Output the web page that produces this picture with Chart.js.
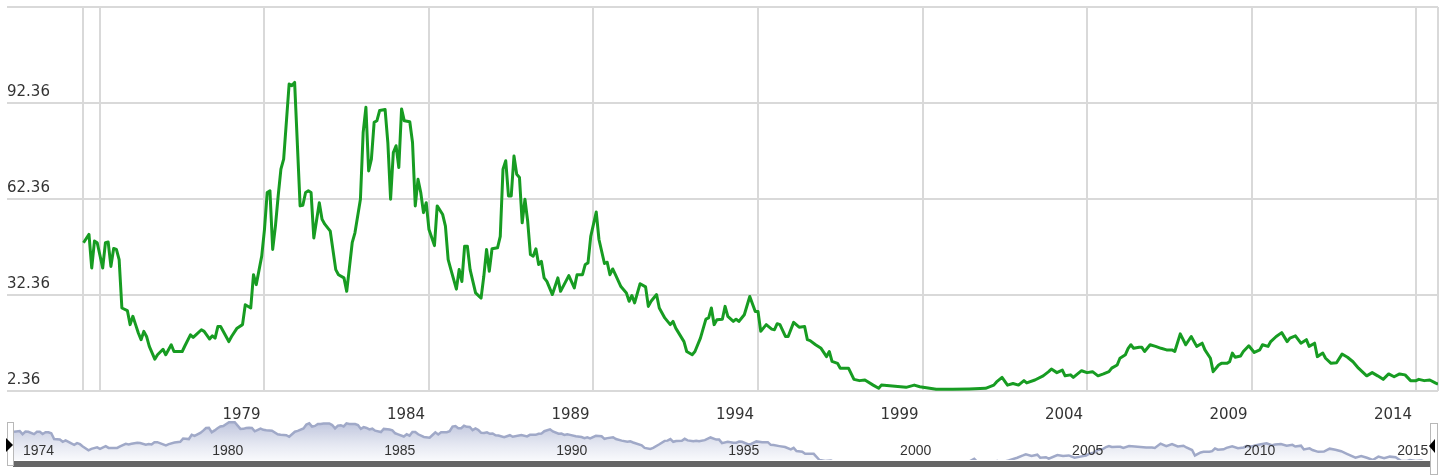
<!DOCTYPE html>
<html>
<head>
<meta charset="utf-8">
<script src="https://cdn.jsdelivr.net/npm/chart.js@4.4.0/dist/chart.umd.min.js"></script>
<style>
  body { margin: 0; background: #fff; }
  #wrap { position: relative; width: 1447px; height: 475px; overflow: hidden; }
  canvas { position: absolute; left: 0; }
  #main { top: 0; }
  #nav { top: 415px; }
  .bar { position: absolute; left: 13px; top: 461px; width: 1417px; height: 6px; background: #666; }
  .handle { position: absolute; background: #fff; border: 1px solid #b8b8b8; }
  .arrow { position: absolute; width: 0; height: 0; border-top: 7px solid transparent; border-bottom: 7px solid transparent; }
</style>
</head>
<body>
<div id="wrap">
  <canvas id="main" width="1447" height="475"></canvas>
  <canvas id="nav" width="1447" height="55"></canvas>
  <div class="bar"></div>
  <div class="handle" style="left:7px; top:422px; width:5px; height:42px;"></div>
  <div class="arrow" style="left:6px; top:438px; border-left:7px solid #000;"></div>
  <div class="handle" style="left:1430px; top:423px; width:6px; height:50px;"></div>
  <div class="arrow" style="left:1429px; top:439px; border-right:6px solid #000;"></div>
</div>
<script>
// values, grouped by decade (month, value)
const months1970s = ['1974-07','1974-09','1974-10','1974-11','1974-12',
  '1975-02','1975-03','1975-04','1975-05','1975-06','1975-07','1975-08','1975-09','1975-11','1975-12',
  '1976-01','1976-02','1976-03','1976-04','1976-05','1976-06','1976-07','1976-09','1976-10','1976-12',
  '1977-01','1977-03','1977-04','1977-07','1977-08','1977-10','1977-11','1977-12',
  '1978-02','1978-03','1978-05','1978-06','1978-07','1978-08','1978-09','1978-12',
  '1979-01','1979-03','1979-05','1979-06','1979-08','1979-09','1979-10','1979-12'];
const values1970s = [48.7,51.3,40.8,49.2,48.7,
  40.8,48.7,48.9,41.3,46.9,46.6,43.4,28.3,27.5,23.1,
  25.7,23.1,20.5,18.4,21,19.4,16.3,12.3,13.7,15.4,
  13.7,16.8,14.7,14.7,16.5,19.9,19.1,19.9,
  21.5,21,18.6,19.6,18.9,22.5,22.5,17.8,
  19.4,22,23.1,29.3,28.3,38.7,35.6,44.5];

const months1980s = ['1980-01','1980-02','1980-03','1980-04','1980-05','1980-06','1980-07','1980-08','1980-10','1980-11','1980-12',
  '1981-02','1981-03','1981-04','1981-05','1981-06','1981-07','1981-09','1981-10','1981-11',
  '1982-01','1982-03','1982-04','1982-06','1982-07','1982-09','1982-10','1982-12',
  '1983-01','1983-02','1983-03','1983-04','1983-05','1983-06','1983-07','1983-09','1983-10','1983-11','1983-12',
  '1984-01','1984-02','1984-03','1984-04','1984-06','1984-07','1984-08','1984-09','1984-10','1984-11','1984-12',
  '1985-01','1985-03','1985-04','1985-06','1985-07','1985-08','1985-09','1985-11','1985-12',
  '1986-01','1986-02','1986-03','1986-04','1986-06','1986-08','1986-09','1986-10','1986-11','1986-12',
  '1987-02','1987-03','1987-04','1987-05','1987-06','1987-07','1987-08','1987-09','1987-10','1987-11','1987-12',
  '1988-01','1988-02','1988-03','1988-04','1988-05','1988-06','1988-07','1988-08','1988-10','1988-12',
  '1989-01','1989-04','1989-06','1989-07','1989-09','1989-10','1989-11','1989-12'];
const values1980s = [52.8,64.4,64.9,46.6,53.9,63.3,71.7,74.8,98.3,97.8,98.8,
  60.2,60.4,64.4,64.9,64.4,50.2,61.2,56,54.5,
  52.3,40.3,38.7,37.7,33.5,48.7,51.8,62.3,
  83.2,91,71.1,74.8,86.3,86.8,90,90.3,80,62.3,76.9,
  79,72.2,90.5,86.8,86.5,80,60.2,68.5,64.4,58.1,61.2,
  52.8,47.8,60.2,57.5,53.9,43.4,40.3,34.2,40.3,
  36.6,47.6,47.6,40.3,33,31.4,38.2,46.6,39.8,46.8,
  47.1,50.7,71.7,74.3,63.3,63.3,75.8,70.1,69.1,54.9,62.3,
  55.4,45,44.5,46.8,41.9,42.9,37.7,36.6,32.5,37.7,
  33.5,38.4,34.6,38.7,38.7,41.9,42.4,50.7];

const months1990s = ['1990-02','1990-03','1990-05','1990-06','1990-07','1990-08','1990-09','1990-11',
  '1991-01','1991-02','1991-03','1991-04','1991-06','1991-08','1991-09','1991-10','1991-12',
  '1992-01','1992-03','1992-05','1992-06','1992-07','1992-10','1992-11',
  '1993-01','1993-02','1993-04','1993-06','1993-07','1993-08','1993-09','1993-10','1993-12',
  '1994-01','1994-02','1994-04','1994-05','1994-06','1994-08','1994-10','1994-12',
  '1995-01','1995-02','1995-04','1995-06','1995-07','1995-08','1995-09','1995-11','1995-12',
  '1996-02','1996-04','1996-06','1996-07','1996-08','1996-10','1996-12',
  '1997-02','1997-03','1997-04','1997-06','1997-07','1997-10','1997-12',
  '1998-02','1998-04','1998-07','1998-09','1998-10',
  '1999-05','1999-07','1999-10','1999-12'];
const values1990s = [58.3,49.7,42.2,42.6,38.7,40.5,38.7,35,
  33,30.4,32.2,29.9,35.9,34.9,28.8,30.4,32.5,
  28.3,25.2,23.1,24.1,22,17.8,14.7,
  13.7,14.7,18.9,24.8,25.2,28.3,23.1,24.6,24.8,
  28.8,25.7,24.1,24.8,24.1,26.2,31.9,27.2,
  27.2,21,23.1,21.7,21.5,23.4,23.1,19.4,19.4,
  23.8,22.3,22.5,18.4,18.1,16.8,15.7,
  13.1,14.7,11.6,11,9.5,9.5,6,
  5.6,5.8,4.2,3.2,4.2,
  3.7,3.5,4.2,3.7];

const months2000s = ['2000-06','2000-12','2001-06','2001-12',
  '2002-03','2002-04','2002-06','2002-08','2002-10','2002-12',
  '2003-02','2003-03','2003-06','2003-09','2003-11','2003-12',
  '2004-02','2004-04','2004-05','2004-07','2004-08','2004-11',
  '2005-01','2005-03','2005-05','2005-07','2005-09','2005-10','2005-12',
  '2006-01','2006-03','2006-04','2006-05','2006-06','2006-08','2006-09','2006-10','2006-12',
  '2007-02','2007-04','2007-06','2007-08','2007-09','2007-11',
  '2008-01','2008-03','2008-05','2008-07','2008-08','2008-10','2008-11',
  '2009-01','2009-02','2009-04','2009-05','2009-06','2009-07','2009-09','2009-10','2009-12'];
const values2000s = [2.9,2.9,3,3.2,
  4.2,5.2,6.6,4.2,4.7,4.2,
  5.6,4.9,5.8,7.1,8.4,9.2,
  8.1,8.9,7.1,7.4,6.6,8.7,
  8.1,8.4,7.1,7.7,8.4,9.5,10.5,
  12.6,13.7,15.7,16.8,15.7,16,16,14.7,16.8,
  16.3,15.7,15.2,15.2,14.7,20.2,
  16.8,19.4,16.3,17.3,15.2,12.6,8.4,
  10.5,11,11,11.5,14.2,12.9,13.3,14.7,16.5];

const months2010s = ['2010-02','2010-04','2010-05','2010-07','2010-08','2010-10','2010-12',
  '2011-02','2011-03','2011-05','2011-07','2011-09','2011-10','2011-12',
  '2012-01','2012-03','2012-04','2012-06','2012-08','2012-10','2012-12',
  '2013-02','2013-04','2013-07','2013-09','2013-11',
  '2014-01','2014-03','2014-05','2014-07','2014-09','2014-11',
  '2015-01','2015-02','2015-04','2015-06','2015-08','2015-09'];
const values2010s = [14.4,15.2,16.8,16.3,17.8,19.4,20.6,
  17.8,18.9,19.6,17.3,18.4,16.3,17.3,
  13.1,14.2,12.6,11,11.2,13.9,12.9,
  11.5,9.5,7.1,8.1,7.1,
  6,7.7,6.8,7.7,7.4,5.6,
  5.6,6,5.6,5.8,4.9,4.5];

// axis ticks
const yTicks = [2.36, 32.36, 62.36, 92.36, 122.36];
const yTickLabels = ['2.36', '32.36', '62.36', '92.36', ''];
const xGridYears = [1974.5, 1975, 1980, 1985, 1990, 1995, 2000, 2005, 2010, 2015, 2015.667];
const xTickLabels = ['', '', '1979', '1984', '1989', '1994', '1999', '2004', '2009', '2014', ''];
const navYears = [1974.5, 1980, 1985, 1990, 1995, 2000, 2005, 2010, 2014.45];
const navLabels = ['1974', '1980', '1985', '1990', '1995', '2000', '2005', '2010', '2015'];

const months = [].concat(months1970s, months1980s, months1990s, months2000s, months2010s);
const values = [].concat(values1970s, values1980s, values1990s, values2000s, values2010s);

function toYear(s) {
    const [y, m] = s.split('-').map(Number);
    return y + (m - 1) / 12;
}
const points = months.map((m, i) => ({ x: toYear(m), y: values[i] }));

const mainFont = { family: 'DejaVu Sans', size: 15 };

new Chart(document.getElementById('main'), {
    type: 'line',
    data: {
        datasets: [{
            data: points,
            borderColor: '#179c22',
            borderWidth: 3,
            borderJoinStyle: 'round',
            pointRadius: 0,
            tension: 0,
            fill: false
        }]
    },
    options: {
        responsive: false,
        animation: false,
        devicePixelRatio: 1,
        layout: { padding: { left: 7, top: 7, right: 9, bottom: 54 } },
        plugins: { legend: { display: false }, tooltip: { enabled: false } },
        scales: {
            x: {
                type: 'linear',
                min: 1972.175,
                max: 2015.667,
                afterBuildTicks: s => { s.ticks = xGridYears.map(v => ({ value: v })); },
                afterFit: s => { s.height = 30; s.paddingLeft = 0; s.paddingRight = 0; },
                grid: { color: '#d9d9d9', lineWidth: 2, drawTicks: false },
                border: { display: false },
                ticks: {
                    autoSkip: false, maxRotation: 0, padding: 15, labelOffset: -23,
                    color: '#333', font: mainFont,
                    callback: (v, i) => xTickLabels[i]
                }
            },
            y: {
                type: 'linear',
                min: 2.36,
                max: 122.36,
                afterBuildTicks: s => { s.ticks = yTicks.map(v => ({ value: v })); },
                afterFit: s => { s.width = 0; s.paddingTop = 0; s.paddingBottom = 0; },
                grid: { color: '#d9d9d9', lineWidth: 2, drawTicks: false },
                border: { display: false },
                ticks: {
                    mirror: true, padding: 0, labelOffset: -11,
                    color: '#333', font: mainFont,
                    callback: (v, i) => yTickLabels[i]
                }
            }
        }
    }
});

// navigator strip under the chart
new Chart(document.getElementById('nav'), {
    type: 'line',
    data: {
        datasets: [{
            data: points,
            borderColor: '#a0a9c8',
            borderWidth: 2.5,
            pointRadius: 0,
            tension: 0,
            fill: 'start',
            backgroundColor: (c) => {
                const area = c.chart.chartArea;
                if (!area) return 'rgba(200,205,225,0.6)';
                const g = c.chart.ctx.createLinearGradient(0, area.top, 0, area.bottom);
                g.addColorStop(0, 'rgba(170,178,210,0.8)');
                g.addColorStop(1, 'rgba(240,242,248,0.5)');
                return g;
            }
        }]
    },
    options: {
        responsive: false,
        animation: false,
        devicePixelRatio: 1,
        layout: { padding: { left: 14, right: 17, top: 6, bottom: 10 } },
        plugins: { legend: { display: false }, tooltip: { enabled: false } },
        scales: {
            x: {
                type: 'linear',
                min: 1974.5,
                max: 2015.667,
                afterBuildTicks: s => { s.ticks = navYears.map(v => ({ value: v })); },
                afterFit: s => { s.height = 0; s.paddingLeft = 0; s.paddingRight = 0; },
                grid: { display: false, drawTicks: false },
                border: { display: false },
                ticks: {
                    z: 1, mirror: true, align: 'start', autoSkip: false, maxRotation: 0,
                    padding: 0, labelOffset: 9, color: '#333',
                    font: { family: 'Liberation Sans', size: 14 },
                    callback: (v, i) => navLabels[i]
                }
            },
            y: { type: 'logarithmic', display: false, min: 6, max: 108 }
        }
    }
});
</script>
</body>
</html>
